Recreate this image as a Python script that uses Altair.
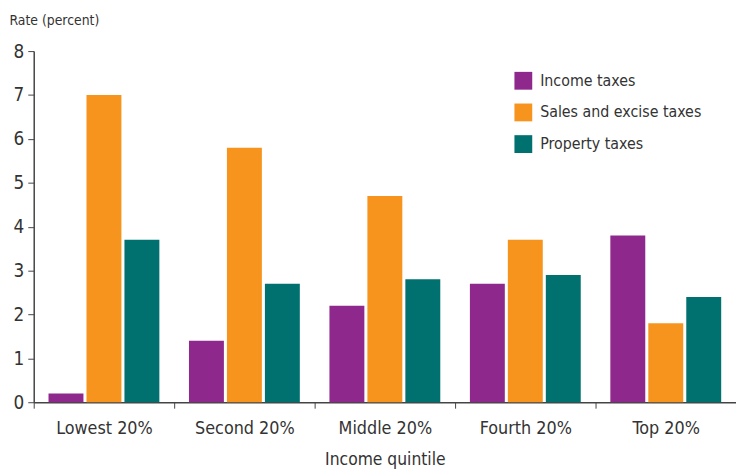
import altair as alt
import pandas as pd

quintiles = ["Lowest 20%", "Second 20%", "Middle 20%", "Fourth 20%", "Top 20%"]
series = ["Income taxes", "Sales and excise taxes", "Property taxes"]
income = [0.2, 1.4, 2.2, 2.7, 3.8]
sales = [7.0, 5.8, 4.7, 3.7, 1.8]
prop = [3.7, 2.7, 2.8, 2.9, 2.4]
colors = ["#8E288C", "#F7941E", "#00716F"]

rows = []
for vals, s in zip([income, sales, prop], series):
    for q, v in zip(quintiles, vals):
        rows.append({"quintile": q, "series": s, "rate": v})
df = pd.DataFrame(rows)

FONT = "'DejaVu Sans Condensed', 'Roboto Condensed', Roboto, sans-serif"
TXT = "#333333"

chart = alt.Chart(df).mark_bar().encode(
    x=alt.X("quintile:N", sort=quintiles,
            scale=alt.Scale(paddingInner=0, paddingOuter=0),
            axis=alt.Axis(title="Income quintile", labelAngle=0, tickBand="extent",
                          tickSize=6, labelPadding=12, labelFontSize=18,
                          titleFontSize=17.5, titleFontWeight="normal", titlePadding=13,
                          labelColor=TXT, titleColor=TXT, domainColor="#444444",
                          tickColor="#444444", domainWidth=1.5)),
    xOffset=alt.XOffset("series:N", sort=series,
                        scale=alt.Scale(paddingInner=0.08, paddingOuter=0.39)),
    y=alt.Y("rate:Q", scale=alt.Scale(domain=[0, 8]),
            axis=alt.Axis(title="Rate (percent)", values=list(range(9)), grid=False,
                          tickSize=6, labelPadding=4, labelFontSize=19,
                          titleAngle=0, titleX=-25, titleY=-27, titleAlign="left",
                          titleBaseline="alphabetic", titleFontSize=14,
                          titleFontWeight="normal", labelColor=TXT, titleColor=TXT,
                          domainColor="#444444", tickColor="#444444", domainWidth=1.5)),
    color=alt.Color("series:N", sort=series,
                    scale=alt.Scale(domain=series, range=colors),
                    legend=alt.Legend(title=None, orient="none", legendX=486, legendY=21,
                                      symbolType="square", symbolSize=324,
                                      symbolStrokeWidth=0, labelFontSize=16,
                                      labelLimit=400,
                                      labelColor=TXT, rowPadding=14, labelOffset=8)),
).properties(
    width=710, height=355,
    autosize=alt.AutoSizeParams(type="none"),
    padding={"left": 26, "top": 41, "right": 0, "bottom": 72},
).configure(font=FONT).configure_view(stroke=None)

chart.save("out.html", embed_options={"renderer": "svg", "actions": False})
